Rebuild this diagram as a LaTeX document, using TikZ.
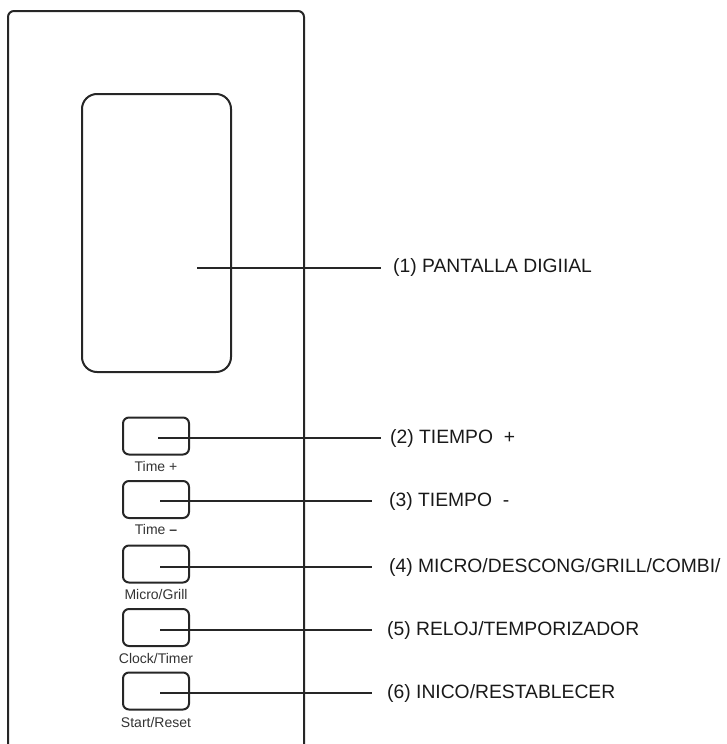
\documentclass[tikz,border=0pt]{standalone}
\usepackage{fontspec}
\setmainfont{Liberation Sans}
\begin{document}
\begin{tikzpicture}[x=1pt,y=-1pt,
  panel/.style={draw=black!85,line width=2pt},
  btn/.style={draw=black!85,line width=2pt,rectangle,rounded corners=6pt,minimum width=66pt,minimum height=37pt,inner sep=0pt},
  disp/.style={draw=black!85,line width=2pt,rectangle,rounded corners=15pt,minimum width=149pt,minimum height=278pt,inner sep=0pt},
  blabel/.style={font=\fontsize{14}{16}\selectfont,text=black!80,inner sep=0pt},
  clabel/.style={font=\fontsize{19.3}{22}\selectfont,text=black!90,anchor=west,inner sep=0pt},
  leader/.style={draw=black!85,line width=1.3pt}]
\useasboundingbox (0,0) rectangle (727,744);
% outer panel
\draw[panel,rounded corners=6pt] (8,746) -- (8,11) -- (304,11) -- (304,746);
% display
\node[disp] (d) at (156.5,233) {};
% buttons
\node[btn] (b1) at (156,436) {};
\node[btn] (b2) at (156,499.5) {};
\node[btn] (b3) at (156,564) {};
\node[btn] (b4) at (156,627.5) {};
\node[btn] (b5) at (156,691) {};
% button labels
\node[blabel] (t1) at (156,466) {Time +};
\node[blabel] (t2) at (156,529) {Time \textbf{–}};
\node[blabel] (t3) at (156,594) {Micro/Grill};
\node[blabel] (t4) at (156,658) {Clock/Timer};
\node[blabel] (t5) at (156,722) {Start/Reset};
% callout labels
\node[clabel] (c1) at (393,268) {(1) PANTALLA DIGIIAL};
\node[clabel] (c2) at (390,438) {(2) TIEMPO\ \ +};
\node[clabel] (c3) at (389,501) {(3) TIEMPO\ \ -};
\node[clabel] (c4) at (389,567) {(4) MICRO/DESCONG/GRILL/COMBI/};
\node[clabel] (c5) at (387,630) {(5) RELOJ/TEMPORIZADOR};
\node[clabel] (c6) at (387,693) {(6) INICO/RESTABLECER};
% leader start/end points
\coordinate (s1) at (197,268); \coordinate (e1) at (381,268);
\coordinate (s2) at (158,438); \coordinate (e2) at (381,438);
\coordinate (s3) at (160,501); \coordinate (e3) at (372,501);
\coordinate (s4) at (160,567); \coordinate (e4) at (372,567);
\coordinate (s5) at (160,630); \coordinate (e5) at (372,630);
\coordinate (s6) at (160,693); \coordinate (e6) at (372,693);
\draw[leader] (s1) -- (e1);
\draw[leader] (s2) -- (e2);
\draw[leader] (s3) -- (e3);
\draw[leader] (s4) -- (e4);
\draw[leader] (s5) -- (e5);
\draw[leader] (s6) -- (e6);
\end{tikzpicture}
\end{document}
